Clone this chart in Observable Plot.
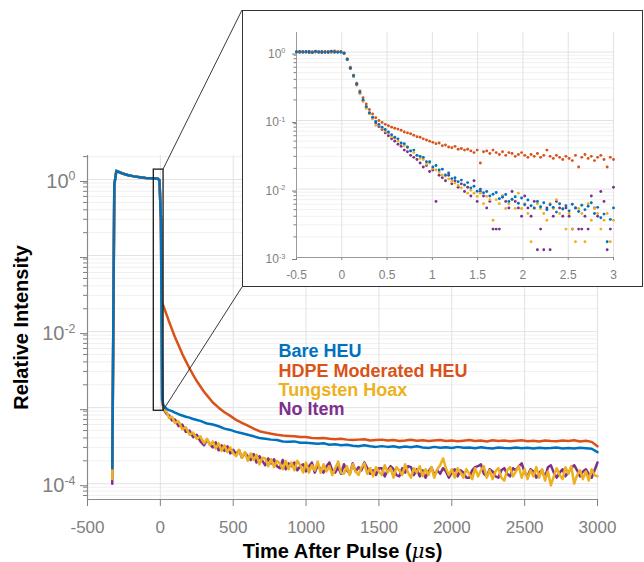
<!DOCTYPE html>
<html><head><meta charset="utf-8">
<script src="https://cdn.jsdelivr.net/npm/d3@7"></script>
<script src="https://cdn.jsdelivr.net/npm/@observablehq/plot@0.6"></script>
<style>
body{margin:0;background:#fff;}
#wrap{position:relative;width:644px;height:562px;}
#insetBox{position:absolute;}
</style></head><body><div id="wrap"></div>
<script>
const FONT = '"Liberation Sans", Arial, Helvetica, sans-serif';
const seriesNames = ["Bare HEU", "HDPE Moderated HEU", "Tungsten Hoax", "No Item"];
const seriesColors = ["#0072BD", "#D95319", "#EDB120", "#7E2F8E"];

// ---- main panel (time in microseconds) ----
const timeUs = [-330,-316,-302,-260,-220,-180,-140,-100,-60,-20,-6,4,12,20,30,45,60,80,100,125,150,175,200,225,250,275,300,
320,360,400,440,480,520,560,600,640,680,720,760,800,840,880,920,960,1000,1040,1080,1120,1160,1200,1240,1280,1320,1360,1400,1440,1480,
1520,1560,1600,1640,1680,1720,1760,1800,1840,1880,1920,1960,2000,2040,2080,2120,2160,2200,2240,2280,2320,2360,2400,2440,2480,
2520,2560,2600,2640,2680,2720,2760,2800,2840,2880,2920,2960,3000];

// finer time bins used for the two noisier series
const timeNoisyUs = [-330,-316,-302,-260,-220,-180,-140,-100,-60,-20,-6,4,12,20,30,45,60,80,100,125,150,175,200,225,250,275,300,
320,340,360,380,400,420,440,460,480,500,520,540,560,580,600,620,640,660,680,700,
720,740,760,780,800,820,840,860,880,900,920,940,960,980,1000,1020,1040,1060,1080,1100,
1120,1140,1160,1180,1200,1220,1240,1260,1280,1300,1320,1340,1360,1380,1400,1420,1440,1460,1480,1500,
1520,1540,1560,1580,1600,1620,1640,1660,1680,1700,1720,1740,1760,1780,1800,1820,1840,1860,1880,1900,
1920,1940,1960,1980,2000,2020,2040,2060,2080,2100,2120,2140,2160,2180,2200,2220,2240,2260,2280,2300,
2320,2340,2360,2380,2400,2420,2440,2460,2480,2500,2520,2540,2560,2580,2600,2620,2640,2660,2680,2700,
2720,2740,2760,2780,2800,2820,2840,2860,2880,2900,2920,2940,2960,2980,3000];

const bareHEU = [1.6e-4,0.85,1.3,1.2,1.14,1.1,1.07,1.05,1.04,1.03,0.98,0.3,
1.3e-3,1.1e-3,1.02e-3,9.6e-4,9.3e-4,9.0e-4,8.6e-4,8.2e-4,7.9e-4,7.6e-4,7.4e-4,7.1e-4,6.9e-4,6.7e-4,6.4e-4,
6.2e-4,6.0e-4,5.7e-4,5.3e-4,5.1e-4,4.8e-4,4.6e-4,4.4e-4,4.2e-4,4.0e-4,
3.9e-4,3.8e-4,3.75e-4,3.6e-4,3.55e-4,3.6e-4,3.45e-4,3.45e-4,3.4e-4,3.35e-4,
3.4e-4,3.25e-4,3.3e-4,3.2e-4,3.25e-4,3.15e-4,3.1e-4,3.2e-4,3.1e-4,3.05e-4,
3.12e-4,3.05e-4,3.1e-4,3.0e-4,3.08e-4,3.02e-4,3.1e-4,3.0e-4,2.95e-4,3.05e-4,
2.97e-4,3.02e-4,2.95e-4,3.05e-4,2.98e-4,3.0e-4,2.92e-4,3.02e-4,2.95e-4,2.9e-4,
3.0e-4,2.95e-4,2.92e-4,3.0e-4,2.93e-4,2.97e-4,2.9e-4,2.98e-4,2.92e-4,2.95e-4,
3.0e-4,2.9e-4,2.95e-4,2.9e-4,2.97e-4,2.92e-4,2.88e-4,2.6e-4];

const hdpeHEU = [1.6e-4,0.85,1.3,1.2,1.14,1.1,1.07,1.05,1.04,1.03,0.98,0.3,
0.024,0.0219,0.0195,0.0162,0.0135,0.0107,0.0085,0.0066,0.0051,0.0041,0.0033,0.0027,0.00224,0.0019,0.00162,
0.00145,0.00117,0.001,0.00087,0.00078,0.00069,0.00063,0.00058,0.00053,0.00049,
0.00047,0.000455,0.00044,0.00043,0.000425,0.00042,0.00041,0.00041,0.0004,0.000395,
0.0004,0.00039,0.000385,0.00039,0.00038,0.000375,0.00038,0.000385,0.00037,0.000375,
0.00038,0.00037,0.000375,0.000365,0.00037,0.000378,0.000368,0.000372,0.000365,0.00037,
0.000375,0.000365,0.00037,0.000362,0.000368,0.000375,0.000365,0.00037,0.00036,0.000372,
0.000365,0.00037,0.000362,0.000368,0.000372,0.000362,0.000368,0.00036,0.00037,0.000365,
0.000362,0.00037,0.000365,0.000372,0.00036,0.000368,0.000355,0.00031];

const tungstenHoax = [1.15e-4,0.85,1.3,1.2,1.14,1.1,1.07,1.05,1.04,1.03,0.98,0.3,
1.25e-3,1.05e-3,9.3e-4,8.6e-4,7.3e-4,7.6e-4,6.3e-4,6.6e-4,5.2e-4,5.5e-4,4.4e-4,4.7e-4,3.9e-4,4.2e-4,3.4e-4,
3.9e-4,3.2e-4,3.6e-4,2.9e-4,3.4e-4,2.7e-4,3.2e-4,2.6e-4,3.0e-4,2.5e-4,
2.3e-4,2.8e-4,2.2e-4,2.6e-4,2.0e-4,2.5e-4,2.05e-4,2.4e-4,1.8e-4,2.2e-4,
2.15e-4,1.7e-4,2.1e-4,1.65e-4,2.0e-4,1.85e-4,1.55e-4,2.0e-4,1.55e-4,1.9e-4,
1.5e-4,2.0e-4,1.75e-4,1.4e-4,1.9e-4,1.4e-4,1.75e-4,1.5e-4,1.95e-4,1.4e-4,
1.8e-4,1.45e-4,1.7e-4,1.3e-4,1.6e-4,1.95e-4,1.4e-4,1.35e-4,1.7e-4,1.3e-4,
1.8e-4,1.45e-4,1.3e-4,1.65e-4,1.85e-4,1.35e-4,1.6e-4,1.25e-4,1.65e-4,1.45e-4,
1.3e-4,1.75e-4,1.4e-4,1.6e-4,1.2e-4,1.65e-4,1.5e-4,1.3e-4,1.8e-4,1.4e-4,
1.2e-4,1.6e-4,1.4e-4,1.7e-4,1.25e-4,1.55e-4,1.3e-4,1.65e-4,1.2e-4,1.55e-4,
1.75e-4,2.15e-4,1.6e-4,1.3e-4,1.55e-4,1.2e-4,1.6e-4,1.4e-4,1.2e-4,1.55e-4,
1.35e-4,1.15e-4,1.6e-4,1.25e-4,1.5e-4,1.7e-4,1.2e-4,1.5e-4,1.15e-4,1.45e-4,
1.6e-4,1.2e-4,1.1e-4,1.5e-4,1.65e-4,1.25e-4,1.45e-4,1.7e-4,1.2e-4,1.55e-4,
1.15e-4,1.5e-4,1.25e-4,1.65e-4,1.2e-4,1.55e-4,1.1e-4,1.45e-4,0.95e-4,1.25e-4,
1.6e-4,1.3e-4,1.15e-4,1.65e-4,1.35e-4,1.7e-4,1.0e-4,1.3e-4,1.5e-4,1.15e-4,
1.45e-4,1.1e-4,1.55e-4,1.3e-4,1.25e-4];

const noItem = [1.0e-4,0.85,1.3,1.2,1.14,1.1,1.07,1.05,1.04,1.03,0.98,0.3,
1.2e-3,1.02e-3,9.0e-4,8.2e-4,7.9e-4,6.8e-4,7.0e-4,5.7e-4,6.0e-4,4.8e-4,5.0e-4,4.1e-4,4.4e-4,3.6e-4,3.2e-4,
3.8e-4,3.3e-4,3.0e-4,3.5e-4,2.75e-4,3.2e-4,2.7e-4,3.1e-4,2.5e-4,2.8e-4,
2.45e-4,2.75e-4,2.2e-4,2.55e-4,2.3e-4,2.05e-4,2.45e-4,1.9e-4,2.3e-4,2.0e-4,
1.75e-4,2.15e-4,1.85e-4,2.1e-4,1.7e-4,1.6e-4,2.05e-4,1.55e-4,1.85e-4,1.7e-4,
1.9e-4,1.5e-4,1.7e-4,1.8e-4,1.45e-4,1.7e-4,1.9e-4,1.4e-4,1.75e-4,1.55e-4,
1.4e-4,1.7e-4,1.9e-4,1.5e-4,1.4e-4,1.65e-4,1.35e-4,1.8e-4,1.5e-4,1.35e-4,
1.85e-4,1.45e-4,1.65e-4,1.5e-4,1.9e-4,1.6e-4,1.35e-4,1.5e-4,1.3e-4,1.6e-4,
1.6e-4,1.25e-4,1.5e-4,1.7e-4,1.55e-4,1.3e-4,1.25e-4,1.6e-4,1.4e-4,1.7e-4,
1.65e-4,1.3e-4,1.55e-4,1.25e-4,1.5e-4,1.2e-4,1.45e-4,1.65e-4,1.3e-4,1.5e-4,
1.35e-4,1.6e-4,1.45e-4,1.2e-4,1.4e-4,1.55e-4,1.25e-4,1.5e-4,1.4e-4,1.2e-4,
1.2e-4,1.5e-4,1.65e-4,1.7e-4,1.8e-4,1.35e-4,1.25e-4,1.55e-4,1.45e-4,1.25e-4,
1.2e-4,1.5e-4,1.6e-4,1.35e-4,1.25e-4,1.6e-4,1.5e-4,1.7e-4,1.85e-4,1.4e-4,
1.25e-4,1.55e-4,1.45e-4,1.2e-4,1.4e-4,1.5e-4,1.2e-4,1.65e-4,1.75e-4,1.4e-4,
1.2e-4,1.4e-4,1.55e-4,1.25e-4,1.4e-4,1.6e-4,1.75e-4,1.5e-4,1.25e-4,1.45e-4,
1.55e-4,1.35e-4,1.2e-4,1.5e-4,1.9e-4];

// ---- inset panel ----
const insetTime = [-0.5,-0.465,-0.43,-0.395,-0.36,-0.325,-0.29,-0.255,-0.22,-0.185,-0.15,-0.115,-0.08,-0.045,-0.01,
0.025,0.06,0.095,0.13,0.165,0.2,0.235,0.27,0.305,0.34,0.375,0.41,0.445,0.48,0.515,
0.55,0.585,0.62,0.655,0.69,0.725,0.76,0.795,0.83,0.865,
0.9,0.935,0.97,1.005,1.04,1.075,1.11,1.145,1.18,1.215,
1.25,1.285,1.32,1.355,1.39,1.425,1.46,1.495,1.53,1.565,
1.6,1.635,1.67,1.705,1.74,1.775,1.81,1.845,1.88,1.915,
1.95,1.985,2.02,2.055,2.09,2.125,2.16,2.195,2.23,2.265,
2.3,2.335,2.37,2.405,2.44,2.475,2.51,2.545,2.58,2.615,
2.65,2.685,2.72,2.755,2.79,2.825,2.86,2.895,2.93,2.965,3.0];

const insetBare = [1.0,1.02,0.99,1.01,1.0,0.98,1.02,1.0,1.01,0.99,1.0,1.03,1.0,0.99,1.0,
0.96,0.78,0.58,0.45,0.34,0.26,0.2,0.16,0.13,0.112,0.097,0.088,0.08,0.074,0.068,
0.062,0.057,0.054,0.047,0.046,0.041,0.036,0.037,0.031,0.03,
0.029,0.025,0.025,0.021,0.022,0.019,0.0195,0.016,0.0172,0.0142,
0.0146,0.0128,0.0135,0.0115,0.0124,0.0104,0.011,0.0093,0.0099,0.0088,
0.0092,0.0079,0.0084,0.0089,0.0072,0.0076,0.0083,0.0066,0.0071,0.0077,
0.0062,0.0074,0.0059,0.0069,0.0057,0.0053,0.0066,0.0055,0.0063,0.005,
0.0059,0.0054,0.0046,0.0061,0.0051,0.0057,0.0048,0.006,0.0053,0.0047,
0.0058,0.005,0.0056,0.0063,0.0044,0.0054,0.0038,0.0043,0.0017,0.0036,0.0053];

const insetHDPE = [1.01,0.99,1.02,1.0,0.98,1.01,1.03,0.99,1.0,1.02,0.98,1.01,1.04,1.0,1.01,
0.97,0.8,0.6,0.46,0.35,0.27,0.215,0.175,0.145,0.125,0.11,0.1,0.094,0.088,0.084,
0.08,0.077,0.075,0.072,0.068,0.066,0.064,0.061,0.058,0.057,
0.054,0.052,0.05,0.048,0.046,0.047,0.043,0.044,0.041,0.04,
0.042,0.038,0.039,0.037,0.038,0.036,0.034,0.037,0.024,0.035,
0.036,0.033,0.037,0.034,0.032,0.035,0.031,0.034,0.033,0.03,
0.032,0.034,0.031,0.029,0.032,0.03,0.033,0.029,0.031,0.037,
0.03,0.028,0.031,0.029,0.027,0.03,0.028,0.026,0.031,0.021,
0.029,0.032,0.028,0.03,0.026,0.029,0.031,0.027,0.021,0.029,0.027];

const insetTungsten = [0.99,1.01,1.0,1.02,0.98,1.0,1.01,0.99,1.03,1.0,1.01,0.98,1.0,1.02,1.0,
0.95,0.77,0.57,0.44,0.33,0.25,0.19,0.15,0.125,0.107,0.085,0.086,0.077,0.07,0.066,
0.058,0.055,0.05,0.046,0.043,0.04,0.036,0.034,0.031,0.028,
0.027,0.023,0.024,0.02,0.019,0.0175,0.016,0.0155,0.014,0.013,
0.0122,0.0113,0.0104,0.0113,0.0087,0.0096,0.0087,0.0078,0.0087,0.0061,
0.0078,0.007,0.0035,0.007,0.0061,0.0078,0.0052,0.0061,0.007,0.0052,
0.0087,0.0052,0.0061,0.0044,0.0017,0.0052,0.0061,0.0052,0.0044,0.0035,
0.0061,0.0052,0.007,0.0044,0.0052,0.0026,0.0044,0.0026,0.0017,0.0052,
0.0044,0.0017,0.0061,0.0035,0.0052,0.0044,0.0026,0.0035,0.0044,0.0017,0.0035];

const insetNoItem = [1.0,0.99,1.01,1.0,1.02,0.99,1.0,1.01,0.98,1.0,1.02,1.0,0.99,1.01,1.0,
0.96,0.78,0.58,0.44,0.33,0.25,0.195,0.155,0.128,0.108,0.093,0.082,0.074,0.066,0.06,
0.054,0.05,0.045,0.042,0.037,0.035,0.031,0.029,0.027,0.024,
0.021,0.022,0.018,0.019,0.0066,0.0159,0.0146,0.0132,0.0159,0.0119,
0.0132,0.0106,0.0119,0.0092,0.0106,0.0079,0.0132,0.0066,0.0092,0.0079,
0.0053,0.0066,0.0026,0.0026,0.0026,0.0079,0.0066,0.0053,0.0092,0.0066,
0.0053,0.004,0.0079,0.0053,0.004,0.0066,0.0013,0.0026,0.0013,0.0053,
0.0013,0.004,0.0066,0.0053,0.004,0.0053,0.004,0.0026,0.0053,0.0026,
0.0026,0.004,0.0026,0.0079,0.0053,0.004,0.0092,0.0066,0.0013,0.0026,0.0106];

// ---- axes / annotations ----
const xDomain = [-500, 3000];
const yDomain = [6.2e-5, 2.07];
const xTicks = [-500, 0, 500, 1000, 1500, 2000, 2500, 3000];
const yDecades = [1e-4, 1e-3, 1e-2, 1e-1, 1];
const yLabeled = [1e-4, 1e-2, 1];
const zoomT = [-45, 22];
const zoomV = [9.1e-4, 1.35];
const insetXDomain = [-0.5, 3];
const insetYDomain = [1e-3, 1.93];
const insetXTicks = [-0.5, 0, 0.5, 1, 1.5, 2, 2.5, 3];
const insetYDecades = [1e-3, 1e-2, 1e-1, 1];
const xTitle = "Time After Pulse (μs)";
const yTitle = "Relative Intensity";

const inset = {left: 242, top: 10, width: 401, height: 277};

function minorTicks(lo, hi) {
  const out = [];
  for (let k = -6; k <= 1; k++) for (let m = 2; m <= 9; m++) {
    const v = m * Math.pow(10, k);
    if (v >= lo && v <= hi) out.push(v);
  }
  return out;
}
const decadeLabel = d => "10^" + Math.round(Math.log10(d));

// ---- build tables ----
const mainValues = [bareHEU, hdpeHEU, tungstenHoax, noItem];
const mainTimes = [timeUs, timeUs, timeNoisyUs, timeNoisyUs];
const insetValues = [insetBare, insetHDPE, insetTungsten, insetNoItem];
const drawOrder = [3, 2, 1, 0];
const mainRows = [], insetRows = [];
for (const i of drawOrder) {
  mainValues[i].forEach((v, j) => mainRows.push({series: seriesNames[i], t: mainTimes[i][j], v}));
  insetValues[i].forEach((v, j) => insetRows.push({series: seriesNames[i], t: insetTime[j], v}));
}

const mainMinor = minorTicks(yDomain[0], yDomain[1]);
const main = Plot.plot({
  width: 644, height: 562,
  marginLeft: 87, marginRight: 47, marginTop: 155, marginBottom: 63,
  style: {fontFamily: FONT, fontSize: "17px", color: "#808080", background: "#fff", overflow: "visible"},
  x: {domain: xDomain, label: null},
  y: {type: "log", domain: yDomain, label: null},
  color: {domain: seriesNames, range: seriesColors},
  marks: [
    Plot.gridY(mainMinor, {stroke: "#f0f0f0", strokeOpacity: 1}),
    Plot.gridY(yDecades, {stroke: "#e2e2e2", strokeOpacity: 1}),
    Plot.gridX(xTicks, {stroke: "#e2e2e2", strokeOpacity: 1}),
    Plot.axisY(mainMinor, {tickSize: 4, tickFormat: () => "", label: null}),
    Plot.axisY(yDecades, {tickSize: 7, tickPadding: 5, dy: 2, fontSize: 20, label: null,
      tickFormat: d => yLabeled.includes(d) ? decadeLabel(d) : ""}),
    Plot.axisX(xTicks, {tickSize: 7, tickPadding: 14, label: null, tickFormat: d => String(d)}),
    Plot.ruleX([xDomain[0]], {stroke: "#8a8a8a", strokeWidth: 1.2}),
    Plot.ruleY([yDomain[0]], {stroke: "#8a8a8a", strokeWidth: 1.2}),
    Plot.line(mainRows, {x: "t", y: "v", z: "series", stroke: "series", strokeWidth: 2.5, strokeLinejoin: "round"}),
    Plot.rect([{x1: zoomT[0], x2: zoomT[1], y1: zoomV[0], y2: zoomV[1]}],
      {x1: "x1", x2: "x2", y1: "y1", y2: "y2", fill: "none", stroke: "#1a1a1a", strokeWidth: 1.3}),
    ...seriesNames.map((name, i) => Plot.text([name], {
      frameAnchor: "top-left", dx: 191, dy: 196 + 19.3 * i, text: d => d,
      fill: seriesColors[i], fontWeight: "bold", fontSize: 18, textAnchor: "start", lineAnchor: "middle"})),
    Plot.text([yTitle], {frameAnchor: "left", dx: -66, rotate: -90, text: d => d,
      fill: "#000", fontWeight: "bold", fontSize: 20, textAnchor: "middle", lineAnchor: "middle"}),
    Plot.text([xTitle], {frameAnchor: "bottom", dy: 52, text: d => d,
      fill: "#000", fontWeight: "bold", fontSize: 20, textAnchor: "middle", lineAnchor: "middle"})
  ]
});

const insetMinor = minorTicks(insetYDomain[0], insetYDomain[1]);
const insetPlot = Plot.plot({
  width: inset.width, height: inset.height,
  marginLeft: 54, marginRight: 30, marginTop: 22, marginBottom: 30,
  style: {fontFamily: FONT, fontSize: "12px", color: "#808080", background: "#fff"},
  x: {domain: insetXDomain, label: null},
  y: {type: "log", domain: insetYDomain, label: null},
  color: {domain: seriesNames, range: seriesColors},
  marks: [
    Plot.gridY(insetMinor, {stroke: "#f0f0f0", strokeOpacity: 1}),
    Plot.gridY(insetYDecades, {stroke: "#e2e2e2", strokeOpacity: 1}),
    Plot.gridX(insetXTicks, {stroke: "#e2e2e2", strokeOpacity: 1}),
    Plot.axisY(insetMinor, {tickSize: 2.5, tickFormat: () => "", label: null}),
    Plot.axisY(insetYDecades, {tickSize: 4, tickPadding: 7, dy: 2, label: null, tickFormat: decadeLabel}),
    Plot.axisX(insetXTicks, {tickSize: 3, tickPadding: 10, label: null, tickFormat: d => String(d)}),
    Plot.ruleX([insetXDomain[0]], {stroke: "#9a9a9a"}),
    Plot.ruleY([insetYDomain[0]], {stroke: "#9a9a9a"}),
    Plot.dot(insetRows, {x: "t", y: "v", fill: "series", r: 1.45})
  ]
});

// superscript exponents as real text
function supify(svg) {
  svg.querySelectorAll("text").forEach(t => {
    const m = /^10\^(-?\d+)$/.exec(t.textContent);
    if (!m) return;
    t.textContent = "10";
    const s = document.createElementNS("http://www.w3.org/2000/svg", "tspan");
    s.setAttribute("dy", "-0.6em");
    s.setAttribute("font-size", "0.62em");
    s.textContent = m[1];
    t.appendChild(s);
  });
}
function italicMu(svg) {
  svg.querySelectorAll("text").forEach(t => {
    const txt = t.textContent;
    const k = txt.indexOf("μ");
    if (k < 0) return;
    t.textContent = txt.slice(0, k);
    const s = document.createElementNS("http://www.w3.org/2000/svg", "tspan");
    s.setAttribute("font-style", "italic");
    s.setAttribute("font-weight", "normal");
    s.setAttribute("font-family", '"DejaVu Serif", serif');
    s.textContent = "μ";
    t.appendChild(s);
    t.appendChild(document.createTextNode(txt.slice(k + 1)));
  });
}
supify(main); supify(insetPlot); italicMu(main);

// connector lines from zoom box to inset
const sx = main.scale("x"), sy = main.scale("y");
const NS = "http://www.w3.org/2000/svg";
const xr = sx.apply(zoomT[1]);
[[sy.apply(zoomV[1]), inset.top], [sy.apply(zoomV[0]), inset.top + inset.height]].forEach(([y0, y1]) => {
  const l = document.createElementNS(NS, "line");
  l.setAttribute("x1", xr); l.setAttribute("y1", y0);
  l.setAttribute("x2", inset.left); l.setAttribute("y2", y1);
  l.setAttribute("stroke", "#222"); l.setAttribute("stroke-width", "0.9");
  main.appendChild(l);
});

const wrap = document.getElementById("wrap");
wrap.appendChild(main);
const box = document.createElement("div");
box.id = "insetBox";
box.style.left = inset.left + "px";
box.style.top = inset.top + "px";
box.style.width = inset.width + "px";
box.style.height = inset.height + "px";
box.style.outline = "1.6px solid #333";
box.style.outlineOffset = "-1px";
box.appendChild(insetPlot);
insetPlot.style.display = "block";
wrap.appendChild(box);
</script></body></html>
